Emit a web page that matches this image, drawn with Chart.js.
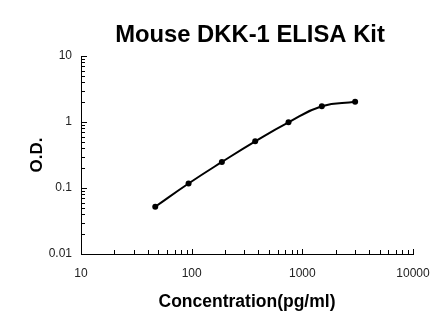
<!DOCTYPE html>
<html>
<head>
<meta charset="utf-8">
<script src="https://cdn.jsdelivr.net/npm/chart.js@4"></script>
<style>
  body { margin: 0; background: #fff; }
  #wrap { width: 446px; height: 326px; }
</style>
</head>
<body>
<div id="wrap"><canvas id="chart" width="446" height="326"></canvas></div>
<script>
// Standard curve data
const concentrations = [46.875, 93.75, 187.5, 375, 750, 1500, 3000];
const odValues = [0.052, 0.117, 0.248, 0.51, 0.99, 1.73, 2.02];

// Axis ticks
const xTicks = [10, 100, 1000, 10000];
const yTicks = [0.01, 0.1, 1, 10];

const chartTitle = 'Mouse DKK-1 ELISA Kit';
const fontFamily = "Arial, 'Liberation Sans', sans-serif";

// Title sits a bit right of centre in the original, so draw it ourselves
const titleText = {
  id: 'titleText',
  afterDraw(chart) {
    const {ctx} = chart;
    ctx.save();
    ctx.font = 'bold 22px ' + fontFamily;
    // size the title so it spans about 270px like the original
    const size = 22 * 270 / ctx.measureText(chartTitle).width;
    ctx.font = 'bold ' + size.toFixed(1) + 'px ' + fontFamily;
    ctx.fillStyle = '#000';
    ctx.textAlign = 'center';
    ctx.textBaseline = 'middle';
    ctx.fillText(chartTitle, 250, 35);
    ctx.restore();
  }
};

// Draw the small tick marks inside the plot, like the original
const tickMarks = {
  id: 'tickMarks',
  afterDraw(chart) {
    const {ctx, chartArea, scales: {x, y}} = chart;
    ctx.save();
    ctx.strokeStyle = '#000';
    ctx.lineWidth = 1;
    ctx.beginPath();
    // x axis ticks point up
    for (let i = 0; i < xTicks.length; i++) {
      const steps = i < xTicks.length - 1 ? 9 : 1;
      for (let m = 1; m <= steps; m++) {
        const px = Math.round(x.getPixelForValue(xTicks[i] * m)) + 0.5;
        const len = m === 1 ? 5 : 4;
        ctx.moveTo(px, chartArea.bottom);
        ctx.lineTo(px, chartArea.bottom - len);
      }
    }
    // y axis ticks point right
    for (let i = 0; i < yTicks.length; i++) {
      const steps = i < yTicks.length - 1 ? 9 : 1;
      for (let m = 1; m <= steps; m++) {
        const py = Math.round(y.getPixelForValue(yTicks[i] * m)) + 0.5;
        const len = m === 1 ? 6 : 4;
        ctx.moveTo(chartArea.left, py);
        ctx.lineTo(chartArea.left + len, py);
      }
    }
    ctx.stroke();
    ctx.restore();
  }
};

const chart = new Chart(document.getElementById('chart'), {
  type: 'line',
  data: {
    datasets: [{
      data: concentrations.map((c, i) => ({x: c, y: odValues[i]})),
      borderColor: '#000',
      backgroundColor: '#000',
      borderWidth: 2,
      pointRadius: 3,
      pointBackgroundColor: '#000',
      pointBorderWidth: 0,
      tension: 0.45,
      fill: false
    }]
  },
  options: {
    responsive: false,
    devicePixelRatio: 1,
    animation: false,
    layout: { padding: { left: 0, right: 33, top: 56, bottom: 0 } },
    plugins: {
      legend: { display: false },
      tooltip: { enabled: false },
      title: { display: false }
    },
    scales: {
      x: {
        type: 'logarithmic',
        min: 10,
        max: 10000,
        afterBuildTicks: scale => { scale.ticks = xTicks.map(v => ({value: v})); },
        afterFit: scale => { scale.height = 72; },
        grid: { display: false, drawTicks: false },
        border: { display: true, color: '#000', width: 1 },
        ticks: {
          color: '#222',
          font: { family: fontFamily, size: 12 },
          padding: 12,
          maxRotation: 0,
          autoSkip: false,
          callback: v => String(v)
        },
        title: {
          display: true,
          text: 'Concentration(pg/ml)',
          color: '#000',
          font: { family: fontFamily, size: 17.5, weight: 'bold', lineHeight: 1.2 },
          padding: { top: 0, bottom: 13.5 }
        }
      },
      y: {
        type: 'logarithmic',
        min: 0.01,
        max: 10,
        afterBuildTicks: scale => { scale.ticks = yTicks.map(v => ({value: v})); },
        afterFit: scale => { scale.width = 81; },
        grid: { display: false, drawTicks: false },
        border: { display: true, color: '#000', width: 1 },
        ticks: {
          color: '#222',
          font: { family: fontFamily, size: 12 },
          padding: 9,
          autoSkip: false,
          callback: v => String(v)
        },
        title: {
          display: true,
          text: 'O.D.',
          color: '#000',
          font: { family: fontFamily, size: 17, weight: 'bold', lineHeight: 1.2 },
          padding: { top: 26.8, bottom: 0 }
        }
      }
    }
  },
  plugins: [tickMarks, titleText]
});
</script>
</body>
</html>
